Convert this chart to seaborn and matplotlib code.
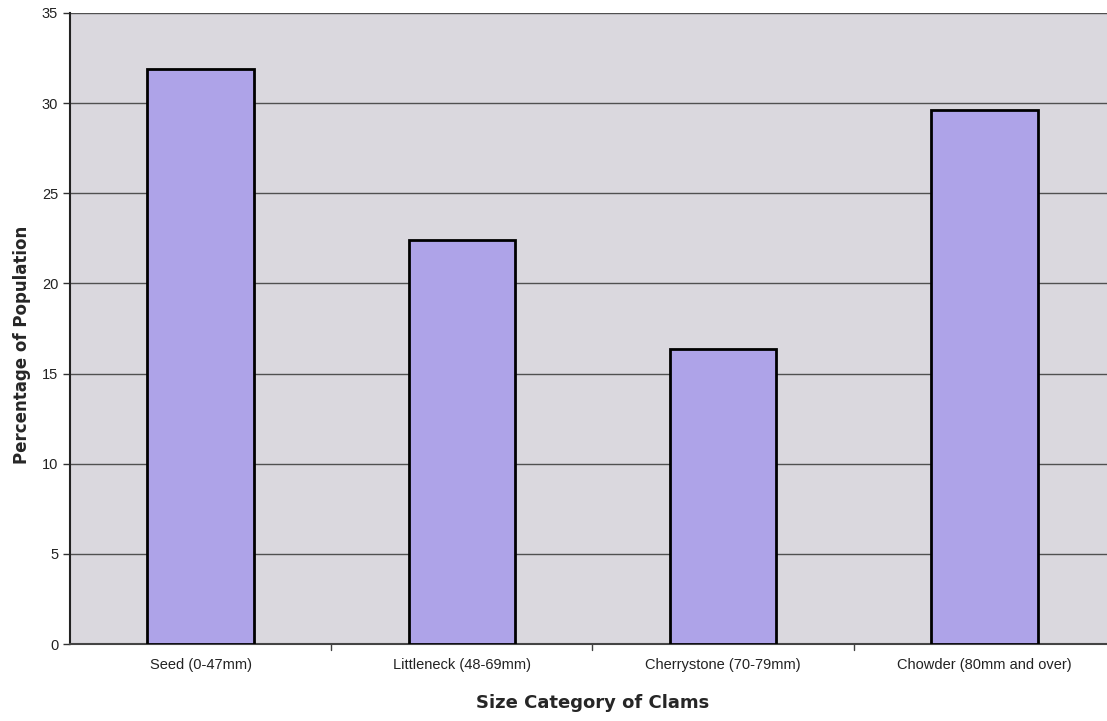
import seaborn as sns
import pandas as pd
import matplotlib.pyplot as plt

categories = ["Seed (0-47mm)", "Littleneck (48-69mm)", "Cherrystone (70-79mm)", "Chowder (80mm and over)"]
percent = [31.9, 22.4, 16.35, 29.6]

sns.set_style("white")
plt.rcParams['font.family'] = ['Liberation Sans', 'DejaVu Sans']

df = pd.DataFrame({'Category': categories, 'Percent': percent})

fig = plt.figure(figsize=(11.07, 7.21), dpi=100)
ax = fig.add_axes([70/1107, 1 - 644/721, 1045/1107, (644-13)/721])
ax.set_facecolor('#dad8de')

sns.barplot(x='Category', y='Percent', data=df, color='#aea3e8', saturation=1,
            width=0.407, edgecolor='black', linewidth=2, ax=ax, zorder=3)

ax.set_ylim(0, 35)
ax.set_xlim(-0.5, 3.5)
ax.set_yticks(range(0, 36, 5))
ax.yaxis.grid(True, color='#505050', linewidth=1, zorder=0)
ax.set_axisbelow(True)

# x ticks sit between categories
ax.set_xticks([0, 1, 2, 3])
ax.set_xticklabels(categories, fontsize=10.5, color='#222222')
ax.tick_params(axis='x', length=0, pad=10)
for b in [0.5, 1.5, 2.5]:
    ax.plot([b, b], [0, -0.35], color='#404040', lw=1, clip_on=False)
ax.tick_params(axis='y', length=5, width=1, direction='out', color='#333333',
               labelsize=10.5, labelcolor='#222222', left=True)

for s in ['top', 'right']:
    ax.spines[s].set_visible(False)
ax.spines['left'].set_color('#222222')
ax.spines['left'].set_linewidth(1.5)
ax.spines['bottom'].set_color('#444444')
ax.spines['bottom'].set_linewidth(1.5)

ax.set_xlabel('Size Category of Clams', fontsize=13, fontweight='bold',
              family=['DejaVu Sans'], labelpad=16)
ax.set_ylabel('Percentage of Population', fontsize=12, fontweight='bold',
              family=['DejaVu Sans'], labelpad=8)
ax.yaxis.label.set_y(0.474)

plt.savefig('out.png', dpi=100)
